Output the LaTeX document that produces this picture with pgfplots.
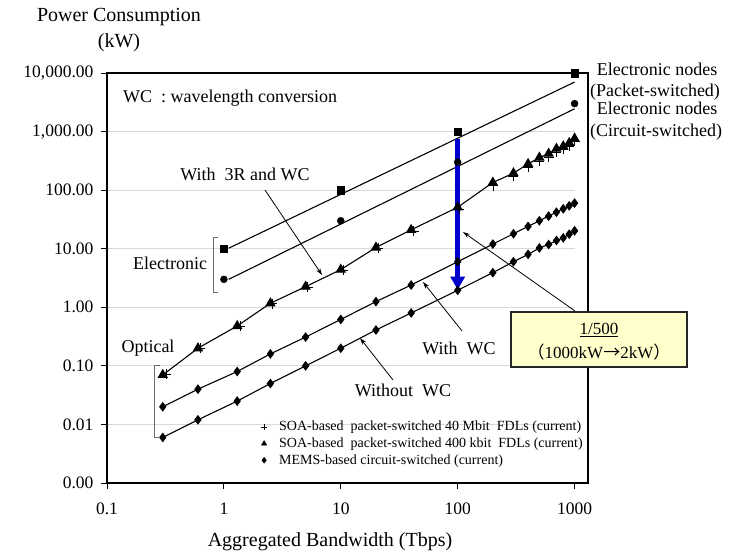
\documentclass[border=0pt]{standalone}
\usepackage{pgfplots}
\pgfplotsset{compat=1.18}
\usepackage{fontspec}
\setmainfont{Liberation Serif}
\newfontfamily\cjk{Noto Sans CJK SC}
\usetikzlibrary{arrows.meta}
\definecolor{gridgray}{RGB}{217,217,217}
\definecolor{boxyellow}{RGB}{255,255,204}
\definecolor{arrowblue}{RGB}{0,0,204}
\definecolor{brgray}{RGB}{110,110,110}
\newcommand{\ann}{\fontsize{18}{20}\selectfont}
\begin{document}
\begin{tikzpicture}[x=1pt,y=1pt]
\useasboundingbox (0,0) rectangle (742,557);
\begin{axis}[
  at={(107pt,74pt)}, anchor=south west,
  scale only axis, width=481pt, height=410pt,
  xmode=log, ymode=log,
  xmin=0.1, xmax=1303, ymin=0.001, ymax=10000,
  xtick={0.1,1,10,100,1000}, xticklabels={0.1,1,10,100,1000},
  ytick={0.001,0.01,0.1,1,10,100,1000,10000},
  yticklabels={0.00,0.01,0.10,1.00,10.00,100.00,{1,000.00},{10,000.00}},
  xminorticks=false, yminorticks=false,
  /pgf/number format/assume math mode=true,
  tick align=outside, tick pos=left,
  major tick length=6pt,
  every tick/.style={black, line width=0.8pt},
  axis line style={line width=1.2pt},
  tick label style={font=\fontsize{17.5}{20}\selectfont},
  xticklabel style={yshift=-10pt},
  yticklabel style={xshift=-4pt},
  clip=false,
  legend style={at={(rel axis cs:0.32,0.156)}, anchor=north west, draw=none, fill=none,
     font=\fontsize{14}{16}\selectfont, row sep=1.5pt, inner sep=0pt,
     /tikz/every odd column/.append style={column sep=10pt}},
  legend cell align=left,
]
\pgfplotsinvokeforeach{0.01,0.1,1,10,100,1000}{
  \draw[gridgray, line width=1pt] (axis cs:0.1,#1) -- (axis cs:1000,#1);
}
\draw[line width=2.6pt] (rel axis cs:0,0) -- (rel axis cs:0,1);
\draw[line width=2.6pt] (rel axis cs:0,0) -- (rel axis cs:1,0);

\addlegendimage{only marks, mark=+, mark size=3, black, mark options={line width=0.5pt}}
\addlegendentry{SOA-based\ \ packet-switched 40 Mbit\ \ FDLs (current)}
\addlegendimage{only marks, mark=triangle*, mark size=3, black}
\addlegendentry{SOA-based\ \ packet-switched 400 kbit\ \ FDLs (current)}
\addlegendimage{only marks, mark=diamond*, mark size=3, black}
\addlegendentry{MEMS-based circuit-switched (current)}

% Electronic nodes (packet-switched)
\addplot[forget plot, black, line width=1.1pt] coordinates {(1.1,10.2) (1000,7000)};
\addplot[forget plot, only marks, mark=square*, mark size=3.8, black] coordinates {(1,10) (10,100) (100,1000) (1000,10000)};
% Electronic nodes (circuit-switched)
\addplot[forget plot, black, line width=1.1pt] coordinates {(1.1,3.0) (1000,2450)};
\addplot[forget plot, only marks, mark=*, mark size=3.5, black] coordinates {(1,3) (10,30) (100,300) (1000,3000)};

% SOA-based 400 kbit FDLs
\addplot[forget plot, black, line width=1.1pt, mark=triangle*, mark size=5, mark options={solid}] coordinates {
(0.3,0.07) (0.6,0.2) (1.3,0.48) (2.5,1.17) (5,2.25) (10,4.4) (20,10.5) (40,21) (100,51)
(200,135) (300,195) (400,280) (500,360) (600,420) (700,510) (800,560) (900,640) (1000,760)};
% SOA-based 40 Mbit FDLs
\addplot[forget plot, only marks, mark=+, mark size=5, black, mark options={line width=0.6pt}] coordinates {
(0.32,0.072) (0.63,0.2) (1.37,0.48) (2.6,1.15) (5.2,2.2) (10.5,4.3) (21,10.3) (42,20) (103,48)
(200,120) (300,175) (400,245) (500,315) (600,370) (700,450) (800,500) (900,570) (1000,680)};

% MEMS-based with WC
\addplot[forget plot, black, line width=1.1pt, mark=diamond*, mark size=4] coordinates {
(0.3,0.02) (0.6,0.04) (1.3,0.08) (2.5,0.16) (5,0.31) (10,0.62) (20,1.25) (40,2.4) (100,6)
(200,12) (300,18) (400,24) (500,30) (600,36) (700,42) (800,48) (900,54) (1000,60)};
% MEMS-based without WC
\addplot[forget plot, black, line width=1.1pt, mark=diamond*, mark size=4] coordinates {
(0.3,0.006) (0.6,0.012) (1.3,0.025) (2.5,0.05) (5,0.1) (10,0.2) (20,0.41) (40,0.8) (100,1.95)
(200,3.9) (300,6) (400,8) (500,10.3) (600,11.8) (700,13.8) (800,15.3) (900,17.7) (1000,20.2)};

% blue reduction arrow
\draw[arrowblue, line width=5pt, -{Triangle[width=14pt,length=13pt]}] (axis cs:100,740) -- (axis cs:100,2);
\end{axis}

% axis titles
\node[font=\fontsize{20}{22}\selectfont, inner sep=0] at (119,{557-17}) {Power Consumption};
\node[font=\fontsize{20}{22}\selectfont, inner sep=0] at (119,{557-43}) {(kW)};
\node[font=\fontsize{20}{22}\selectfont, inner sep=0] at (330,{557-542}) {Aggregated Bandwidth (Tbps)};

% annotations
\node[font=\ann, inner sep=0, anchor=west] at (123,{557-98}) {WC\ \ : wavelength conversion};
\node[font=\ann, inner sep=0] at (245,{557-174}) {With\ \ 3R and WC};
\draw[line width=0.8pt, -{Stealth[length=7pt,width=4.5pt]}] (265,{557-190}) -- (322,{557-275});
\node[font=\ann, inner sep=0] at (170,{557-263}) {Electronic};
\draw[brgray, line width=1pt] (218,{557-238}) -- (213,{557-238}) -- (213,{557-293}) -- (218,{557-293});
\node[font=\ann, inner sep=0] at (148,{557-348}) {Optical};
\draw[brgray, line width=1pt] (160,{557-366}) -- (154,{557-366}) -- (154,{557-438}) -- (160,{557-438});
\node[font=\ann, inner sep=0] at (459,{557-348}) {With\ \ WC};
\draw[line width=0.8pt, -{Stealth[length=7pt,width=4.5pt]}] (462,{557-331}) -- (423,{557-282});
\node[font=\ann, inner sep=0] at (403,{557-390}) {Without\ \ WC};
\draw[line width=0.8pt, -{Stealth[length=7pt,width=4.5pt]}] (393,{557-380}) -- (360,{557-338});

% right side labels
\node[font=\ann, inner sep=0] at (657,{557-69}) {Electronic nodes};
\node[font=\ann, inner sep=0] at (655,{557-92}) {(Packet-switched)};
\node[font=\ann, inner sep=0] at (657,{557-108}) {Electronic nodes};
\node[font=\ann, inner sep=0] at (656,{557-132}) {(Circuit-switched)};

% 1/500 box
\draw[line width=0.8pt, -{Stealth[length=7pt,width=4.5pt]}] (575,{557-311}) -- (463,{557-232});
\draw[fill=boxyellow, draw=black!85, line width=1.2pt] (511,{557-312}) rectangle (687,{557-367});
\node[font=\fontsize{17}{19}\selectfont, inner sep=0] at (599,{557-330}) {\underline{1/500}};
\node[font=\fontsize{17}{19}\selectfont, inner sep=0] at (599,{557-352}) {{\cjk （}1000kW{\cjk →}2kW{\cjk ）}};
\end{tikzpicture}
\end{document}
